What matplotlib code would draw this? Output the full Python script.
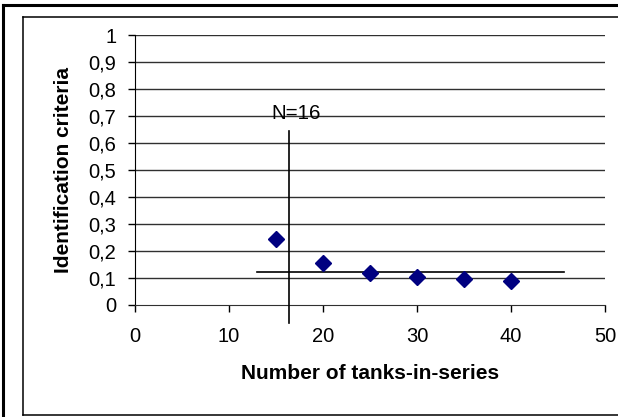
import matplotlib
matplotlib.use('Agg')
import matplotlib.pyplot as plt
from matplotlib.lines import Line2D

# data
tanks = [15, 20, 25, 30, 35, 40]
criteria = [0.244, 0.154, 0.119, 0.102, 0.094, 0.087]
n_opt = 16.4
crit_level = 0.121
yticks = [0, 0.1, 0.2, 0.3, 0.4, 0.5, 0.6, 0.7, 0.8, 0.9, 1]
ylabels = ['0', '0,1', '0,2', '0,3', '0,4', '0,5', '0,6', '0,7', '0,8', '0,9', '1']
xticks = [0, 10, 20, 30, 40, 50]

plt.rcParams['font.family'] = ['Liberation Sans', 'DejaVu Sans']

W, H = 618, 417
fig = plt.figure(figsize=(W / 100, H / 100), dpi=100)
ax = fig.add_axes([134.5 / W, (H - 304.7) / H, (605.3 - 134.5) / W, (304.7 - 35.3) / H])

# borders around the chart (cropped on the right)
fig.add_artist(Line2D([3 / W, 1], [1 - 5 / H, 1 - 5 / H], color='k', lw=2.2))
fig.add_artist(Line2D([3 / W, 3 / W], [0, 1 - 5 / H], color='k', lw=2.2))
fig.add_artist(Line2D([23 / W, 1], [1 - 17 / H, 1 - 17 / H], color='k', lw=1.1))
fig.add_artist(Line2D([23 / W, 23 / W], [1 - 415 / H, 1 - 17 / H], color='k', lw=1.1))
fig.add_artist(Line2D([23 / W, 1], [1 - 415 / H, 1 - 415 / H], color='k', lw=1.1))

ax.set_xlim(0, 50)
ax.set_ylim(0, 1)
for y in yticks[1:]:
    ax.axhline(y, color='#303030', lw=1.0, zorder=1)

ax.plot(tanks, criteria, 'D', color='#000080', ms=7.8, zorder=5, clip_on=False)
ax.plot([n_opt, n_opt], [-0.069, 0.645], color='k', lw=1.2, clip_on=False, zorder=4)
ax.plot([13.0, 45.6], [crit_level, crit_level], color='k', lw=1.2, zorder=4)
ax.text(17.15, 0.688, 'N=16', ha='center', va='baseline', fontsize=14.8)

ax.set_xticks(xticks)
ax.set_xticklabels([str(t) for t in xticks])
ax.set_yticks(yticks)
ax.set_yticklabels(ylabels)
ax.tick_params(axis='both', direction='out', length=5, width=1, labelsize=14.5, color='k')
ax.tick_params(axis='x', pad=11)
ax.tick_params(axis='y', pad=8)
for s in ['top', 'right']:
    ax.spines[s].set_visible(False)
ax.spines['left'].set_color('k')
ax.spines['bottom'].set_color('#303030')

ax.set_xlabel('Number of tanks-in-series', fontsize=15, fontweight='bold', labelpad=13)
ax.set_ylabel('Identification criteria', fontsize=15, fontweight='bold', labelpad=11)

fig.savefig('out.png', dpi=100)
